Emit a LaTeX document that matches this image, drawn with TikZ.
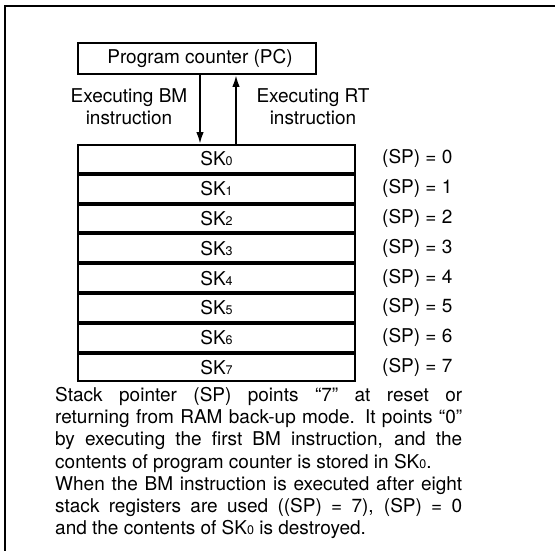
\documentclass[tikz,border=0pt]{standalone}
\usepackage{fontspec}
\setmainfont{TeX Gyre Heros}
\usetikzlibrary{arrows.meta}
\newcommand\skn[1]{SK{\fontsize{12.5}{12.5}\selectfont #1}}
\newcommand\jline[1]{\makebox[407pt][s]{#1}}
\begin{document}
\begin{tikzpicture}[x=1pt,y=-1pt,
  txt/.style={font=\fontsize{19}{19}\selectfont,inner sep=0pt},
  box/.style={txt,draw,line width=1.9pt,minimum height=27.8pt},
  arr/.style={line width=1.9pt,-{Latex[length=12pt,width=7.5pt]}},
  para/.style={txt,anchor=base west},
  ]
\useasboundingbox (0,0) rectangle (555,551);
\draw[line width=2.5pt] (5,551) -- (5,6) -- (555,6);
% program counter
\node[box,minimum width=238pt,minimum height=31pt] (pc) at (197,58.5) {\hspace{6pt}Program counter (PC)};
% stack
\foreach \i in {0,...,7}{
  \pgfmathsetmacro\yy{144+29.8*\i+14.9}
  \node[box,minimum width=277pt] (sk\i) at (216.5,\yy) {\skn{\i}};
  \node[txt,anchor=west] (sp\i) at (382,\yy) {(SP) = \i};
}
\coordinate (ad) at (200,0);
\coordinate (au) at (236,0);
\draw[arr] (ad |- pc.south) -- (ad |- sk0.north);
\draw[arr] (au |- sk0.north) -- (au |- pc.south);
\node[txt,align=center] (bm) at (129,107) {Executing BM\\[3pt]instruction};
\node[txt,align=center] (rt) at (313,107) {Executing RT\\[3pt]instruction};
% paragraph
\node[para] (l1) at (55,401.5) {\jline{Stack pointer (SP) points “7” at reset or}};
\node[para] (l2) at (55,423.7) {\jline{returning from RAM back-up mode. It points “0”}};
\node[para] (l3) at (55,445.9) {\jline{by executing the first BM instruction, and the}};
\node[para] (l4) at (55,468.1) {contents of program counter is stored in \skn{0}.};
\node[para] (l5) at (55,490.3) {\jline{When the BM instruction is executed after eight}};
\node[para] (l6) at (55,512.5) {\jline{stack registers are used ((SP) = 7), (SP) = 0}};
\node[para] (l7) at (55,534.7) {and the contents of \skn{0} is destroyed.};
\end{tikzpicture}
\end{document}
